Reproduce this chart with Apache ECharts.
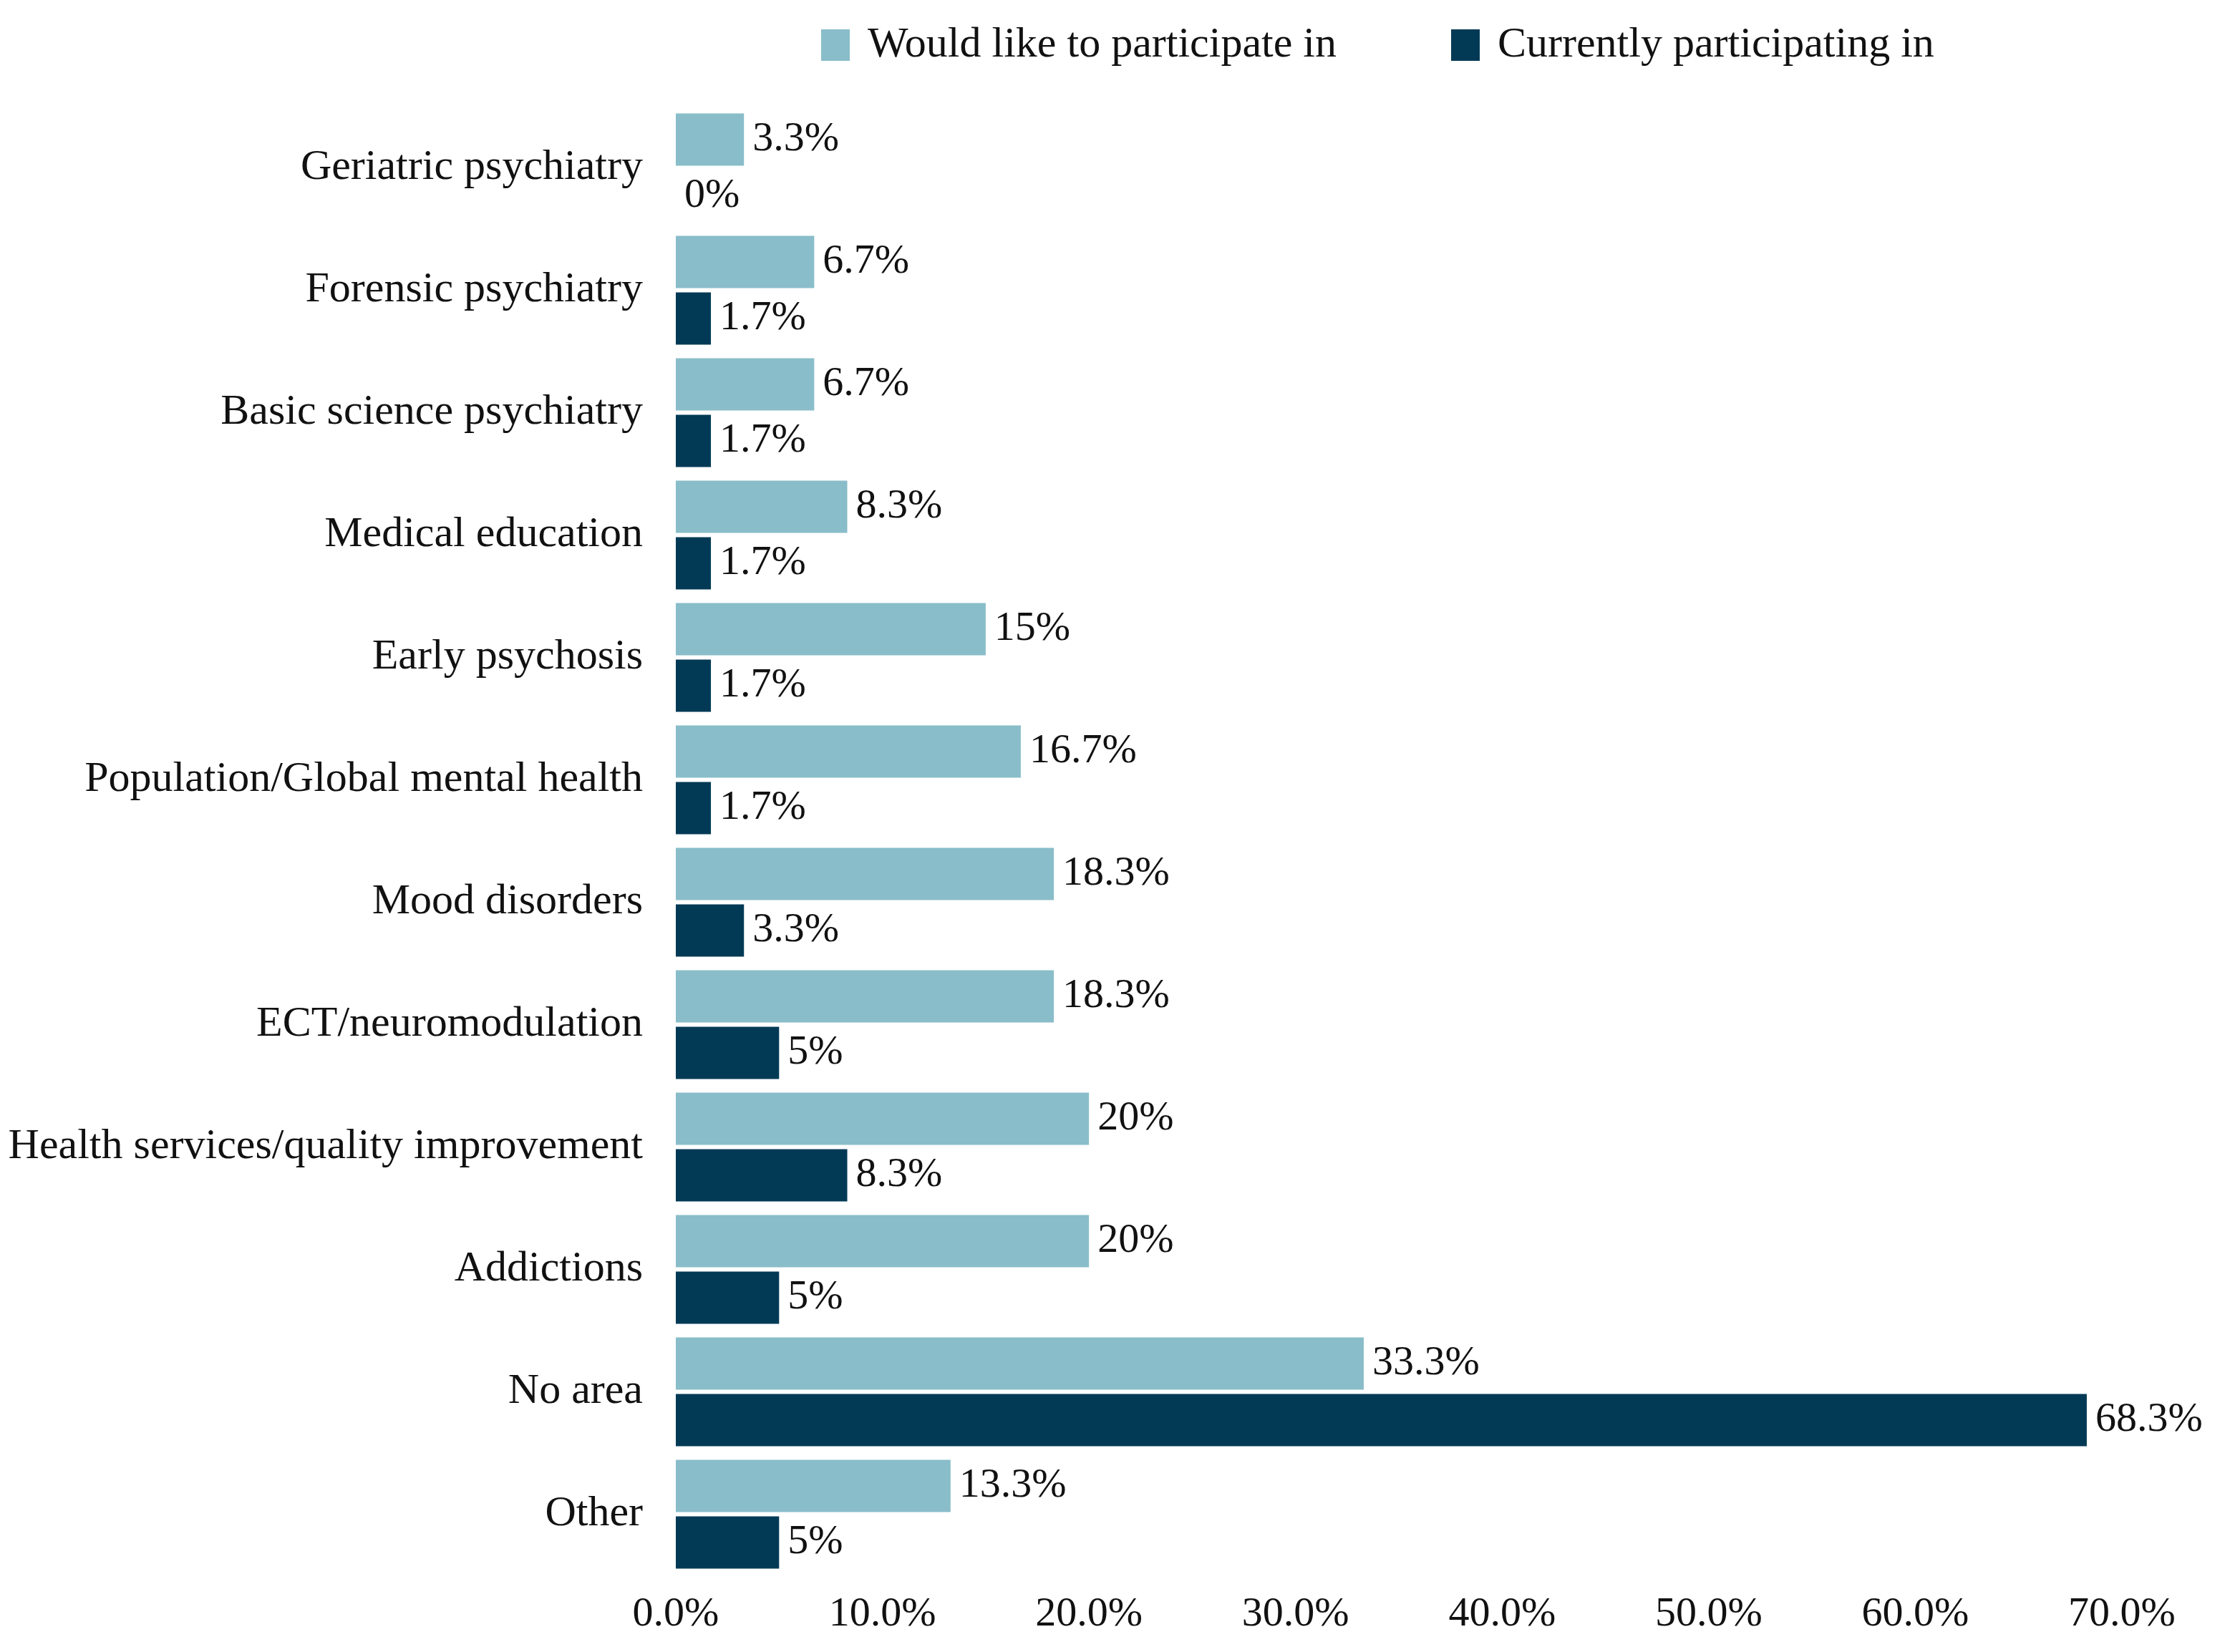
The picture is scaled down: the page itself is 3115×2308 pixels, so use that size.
<!DOCTYPE html>
<html>
<head>
<meta charset="utf-8">
<script src="https://cdn.jsdelivr.net/npm/echarts@6/dist/echarts.min.js"></script>
<style>
html,body{margin:0;padding:0;background:#fff;}
#chart{width:3115px;height:2308px;}
</style>
</head>
<body>
<div id="chart"></div>
<script>
const categories = [
  "Geriatric psychiatry",
  "Forensic psychiatry",
  "Basic science psychiatry",
  "Medical education",
  "Early psychosis",
  "Population/Global mental health",
  "Mood disorders",
  "ECT/neuromodulation",
  "Health services/quality improvement",
  "Addictions",
  "No area",
  "Other"
];
const wouldLike = [3.3, 6.7, 6.7, 8.3, 15, 16.7, 18.3, 18.3, 20, 20, 33.3, 13.3];
const currently = [0, 1.7, 1.7, 1.7, 1.7, 1.7, 3.3, 5, 8.3, 5, 68.3, 5];
const seriesNames = ["Would like to participate in", "Currently participating in"];
const xTicks = [0, 10, 20, 30, 40, 50, 60, 70];

const FONT = "'Liberation Serif', 'Times New Roman', serif";
const chart = echarts.init(document.getElementById('chart'));
const labelStyle = {
  show: true,
  position: 'right',
  distance: 12,
  fontFamily: FONT,
  fontSize: 58,
  color: '#111',
  formatter: p => p.value + '%'
};
chart.setOption({
  animation: false,
  backgroundColor: '#fff',
  textStyle: { fontFamily: FONT },
  legend: {
    top: 28,
    left: 1142,
    itemWidth: 40,
    itemHeight: 44,
    itemGap: 160,
    textStyle: { fontFamily: FONT, fontSize: 60, color: '#111', padding: [0, 0, 0, 20] },
    data: seriesNames.map(n => ({ name: n, icon: 'rect' }))
  },
  grid: { left: 944, right: 151, top: 149, bottom: 107, containLabel: false },
  xAxis: {
    type: 'value',
    min: xTicks[0],
    max: xTicks[xTicks.length - 1],
    interval: 10,
    axisLine: { show: false },
    axisTick: { show: false },
    splitLine: { show: false },
    axisLabel: {
      fontFamily: FONT,
      fontSize: 58,
      color: '#111',
      margin: 26,
      formatter: v => v.toFixed(1) + '%'
    }
  },
  yAxis: {
    type: 'category',
    data: categories,
    inverse: true,
    axisLine: { show: false },
    axisTick: { show: false },
    axisLabel: { fontFamily: FONT, fontSize: 60, color: '#111', margin: 46 }
  },
  series: [
    {
      name: seriesNames[0],
      type: 'bar',
      data: wouldLike,
      barWidth: 73,
      barGap: '8%',
      itemStyle: { color: '#89BDC9' },
      label: labelStyle
    },
    {
      name: seriesNames[1],
      type: 'bar',
      data: currently,
      barWidth: 73,
      barGap: '8%',
      itemStyle: { color: '#023A56' },
      label: labelStyle
    }
  ]
});
</script>
</body>
</html>
